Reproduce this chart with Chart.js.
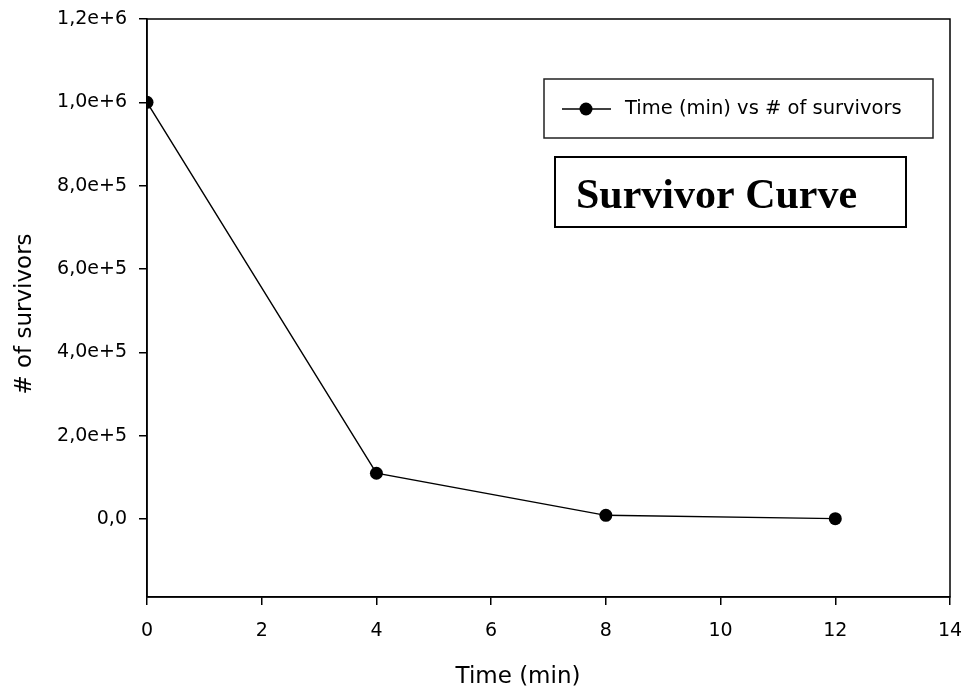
<!DOCTYPE html>
<html lang="en">
<head>
    <meta charset="UTF-8">
    <title>Survivor Curve</title>
    <script src="https://cdn.jsdelivr.net/npm/chart.js"></script>
    <style>
        html, body { margin: 0; padding: 0; background: white; }
        #wrap { width: 964px; height: 692px; }
    </style>
</head>
<body>
    <div id="wrap"><canvas id="survivorChart"></canvas></div>
    <script>
        const times = [0, 4, 8, 12];
        const survivors = [1000000, 110000, 9000, 1000];
        const xTicks = [0, 2, 4, 6, 8, 10, 12, 14];
        const yTicks = [0, 200000, 400000, 600000, 800000, 1000000, 1200000];
        const seriesLabel = "Time (min) vs # of survivors";
        const chartTitle = "Survivor Curve";
        const xTitle = "Time (min)";
        const yTitle = "# of survivors";

        const sans = "'DejaVu Sans', sans-serif";

        const formatSci = (v) => {
            if (v === 0) return "0,0";
            const e = Math.floor(Math.log10(Math.abs(v)));
            const m = v / Math.pow(10, e);
            return m.toFixed(1).replace(".", ",") + "e+" + e;
        };

        // frame, legend box, title box and axis titles
        const decorations = {
            id: "decorations",
            afterDraw(chart) {
                const ctx = chart.ctx;
                const a = chart.chartArea;
                ctx.save();
                ctx.strokeStyle = "#000";
                ctx.lineWidth = 1.5;
                ctx.strokeRect(a.left, a.top, a.right - a.left, a.bottom - a.top);

                // legend
                ctx.strokeStyle = "#222";
                ctx.lineWidth = 1.5;
                ctx.strokeRect(544, 79, 389, 59);
                ctx.beginPath();
                ctx.moveTo(562, 109);
                ctx.lineTo(611, 109);
                ctx.strokeStyle = "#000";
                ctx.stroke();
                ctx.beginPath();
                ctx.arc(586, 109, 6.5, 0, Math.PI * 2);
                ctx.fillStyle = "#000";
                ctx.fill();
                ctx.font = "19.5px " + sans;
                ctx.textBaseline = "middle";
                ctx.textAlign = "left";
                ctx.fillText(chart.data.datasets[0].label, 625, 109);

                // title box
                ctx.lineWidth = 2;
                ctx.strokeRect(555, 157, 351, 70);
                ctx.font = "bold 42px 'Liberation Serif', 'Times New Roman', serif";
                ctx.textBaseline = "alphabetic";
                ctx.fillText(chartTitle, 576, 208);

                // axis titles
                ctx.font = "23px " + sans;
                ctx.textAlign = "center";
                ctx.textBaseline = "middle";
                ctx.fillText(xTitle, 518, 677);
                ctx.translate(25, 314);
                ctx.rotate(-Math.PI / 2);
                ctx.fillText(yTitle, 0, 0);
                ctx.restore();
            }
        };

        const ctx = document.getElementById("survivorChart").getContext("2d");
        new Chart(ctx, {
            type: "line",
            data: {
                datasets: [{
                    label: seriesLabel,
                    data: times.map((t, i) => ({ x: t, y: survivors[i] })),
                    borderColor: "#000",
                    borderWidth: 1.4,
                    backgroundColor: "#000",
                    pointRadius: 6.5,
                    pointBorderWidth: 0,
                    tension: 0,
                }],
            },
            options: {
                responsive: true,
                maintainAspectRatio: false,
                animation: false,
                layout: { padding: { top: 19, right: 14, left: 0, bottom: 0 } },
                plugins: { legend: { display: false }, tooltip: { enabled: false } },
                scales: {
                    x: {
                        type: "linear",
                        min: 0,
                        max: 14,
                        afterBuildTicks: (s) => { s.ticks = xTicks.map(v => ({ value: v })); },
                        afterFit: (s) => { s.height = 95; s.paddingLeft = 0; s.paddingRight = 0; },
                        grid: { drawOnChartArea: false, tickLength: 8, color: "#000", lineWidth: 1.5 },
                        border: { color: "#000", width: 1.5 },
                        ticks: { color: "#000", font: { family: sans, size: 19 }, padding: 15, maxRotation: 0 },
                    },
                    y: {
                        type: "linear",
                        min: -187000,
                        max: 1200000,
                        afterBuildTicks: (s) => { s.ticks = yTicks.map(v => ({ value: v })); },
                        afterFit: (s) => { s.width = 147; s.paddingTop = 0; s.paddingBottom = 0; },
                        grid: { drawOnChartArea: false, tickLength: 8, color: "#000", lineWidth: 1.5 },
                        border: { color: "#000", width: 1.5 },
                        ticks: { color: "#000", font: { family: sans, size: 19 }, padding: 12, callback: formatSci },
                    },
                },
            },
            plugins: [decorations],
        });
    </script>
</body>
</html>
